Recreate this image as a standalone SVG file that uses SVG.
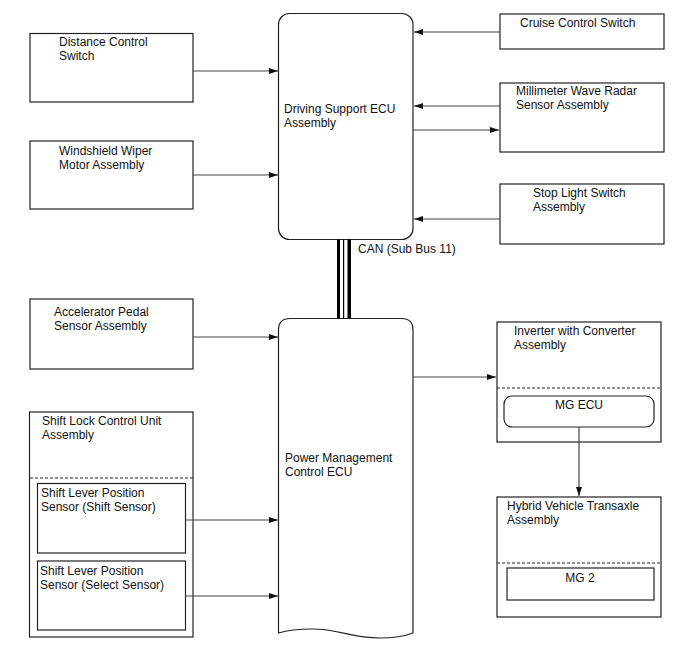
<svg xmlns="http://www.w3.org/2000/svg" width="688" height="658" viewBox="0 0 688 658">
<style>
.box{fill:#fff;stroke:#222;stroke-width:1.2}
.dash{stroke:#222;stroke-width:1.2;stroke-dasharray:3,2;fill:none}
.conn{stroke:#444;stroke-width:1.2;fill:none}
text{font-family:"Liberation Sans",Arial,sans-serif;font-size:12px;fill:#111}
</style>
<defs>
<marker id="ah" markerWidth="10" markerHeight="8" refX="9" refY="4" orient="auto" markerUnits="userSpaceOnUse">
<path d="M0,1 L9,4 L0,7 Z" fill="#111"/>
</marker>
</defs>
<g id="driving-support-ecu">
<rect class="box" x="278.5" y="13.5" width="134.5" height="226" rx="11" ry="11"/>
<text x="284" y="113">Driving Support ECU</text>
<text x="284" y="127">Assembly</text>
</g>
<g id="power-management-ecu">
<path class="box" d="M278.5,633 L278.5,330 Q278.5,318.5 290,318.5 L401.5,318.5 Q413,318.5 413,330 L413,633 Q400,638 380,638 C350,638 340,629 312,629 C295,629 285,631 278.5,633 Z"/>
<text x="285" y="462">Power Management</text>
<text x="285" y="476">Control ECU</text>
</g>
<g id="can-bus">
<rect x="337" y="239.5" width="3" height="79" fill="#000"/>
<rect x="343" y="239.5" width="1.2" height="79" fill="#000"/>
<rect x="347.5" y="239.5" width="3.5" height="79" fill="#000"/>
<text x="358" y="253">CAN (Sub Bus 11)</text>
</g>
<g id="distance-control-switch">
<rect class="box" x="30" y="33.5" width="163" height="68.5"/>
<text x="59" y="46">Distance Control</text>
<text x="59" y="60">Switch</text>
</g>
<g id="windshield-wiper">
<rect class="box" x="30" y="141" width="163" height="68"/>
<text x="59" y="155">Windshield Wiper</text>
<text x="59" y="169">Motor Assembly</text>
</g>
<g id="cruise-control-switch">
<rect class="box" x="500" y="14" width="164" height="35"/>
<text x="520" y="27">Cruise Control Switch</text>
</g>
<g id="millimeter-wave-radar">
<rect class="box" x="500" y="83" width="164" height="69"/>
<text x="516" y="95">Millimeter Wave Radar</text>
<text x="516" y="109">Sensor Assembly</text>
</g>
<g id="stop-light-switch">
<rect class="box" x="500" y="184" width="164" height="60"/>
<text x="533" y="197">Stop Light Switch</text>
<text x="533" y="211">Assembly</text>
</g>
<g id="accelerator-pedal">
<rect class="box" x="30" y="299" width="163" height="70"/>
<text x="54" y="316">Accelerator Pedal</text>
<text x="54" y="330">Sensor Assembly</text>
</g>
<g id="shift-lock-control-unit">
<rect class="box" x="29.5" y="412" width="163.5" height="225"/>
<line class="dash" x1="30" y1="478" x2="193" y2="478"/>
<text x="42" y="425">Shift Lock Control Unit</text>
<text x="42" y="439">Assembly</text>
</g>
<g id="shift-lever-shift-sensor">
<rect class="box" x="37.5" y="483.5" width="148" height="69.5"/>
<text x="41" y="497">Shift Lever Position</text>
<text x="41" y="511">Sensor (Shift Sensor)</text>
</g>
<g id="shift-lever-select-sensor">
<rect class="box" x="37.5" y="561" width="148" height="69"/>
<text x="40" y="575">Shift Lever Position</text>
<text x="40" y="589">Sensor (Select Sensor)</text>
</g>
<g id="inverter-assembly">
<rect class="box" x="497" y="322" width="164" height="120"/>
<line class="dash" x1="497" y1="388" x2="661" y2="388"/>
<text x="514" y="335">Inverter with Converter</text>
<text x="514" y="349">Assembly</text>
</g>
<g id="mg-ecu">
<rect class="box" x="504" y="396" width="150" height="31" rx="8" ry="8"/>
<text x="579" y="409" text-anchor="middle">MG ECU</text>
</g>
<g id="hybrid-transaxle">
<rect class="box" x="497" y="497" width="164" height="120"/>
<line class="dash" x1="497" y1="563" x2="661" y2="563"/>
<text x="507" y="510">Hybrid Vehicle Transaxle</text>
<text x="507" y="524">Assembly</text>
</g>
<g id="mg2">
<rect class="box" x="507" y="568" width="147" height="32"/>
<text x="580" y="582" text-anchor="middle">MG 2</text>
</g>
<g id="connectors">
<line class="conn" x1="193" y1="71" x2="278" y2="71" marker-end="url(#ah)"/>
<line class="conn" x1="193" y1="175" x2="278" y2="175" marker-end="url(#ah)"/>
<line class="conn" x1="500" y1="32" x2="414" y2="32" marker-end="url(#ah)"/>
<line class="conn" x1="500" y1="106" x2="414" y2="106" marker-end="url(#ah)"/>
<line class="conn" x1="413" y1="130" x2="499" y2="130" marker-end="url(#ah)"/>
<line class="conn" x1="500" y1="219" x2="414" y2="219" marker-end="url(#ah)"/>
<line class="conn" x1="193" y1="337" x2="278" y2="337" marker-end="url(#ah)"/>
<line class="conn" x1="185.5" y1="520" x2="278" y2="520" marker-end="url(#ah)"/>
<line class="conn" x1="185.5" y1="596" x2="278" y2="596" marker-end="url(#ah)"/>
<line class="conn" x1="413" y1="377" x2="496" y2="377" marker-end="url(#ah)"/>
<line class="conn" x1="579" y1="427" x2="579" y2="496" marker-end="url(#ah)"/>
</g>
</svg>
